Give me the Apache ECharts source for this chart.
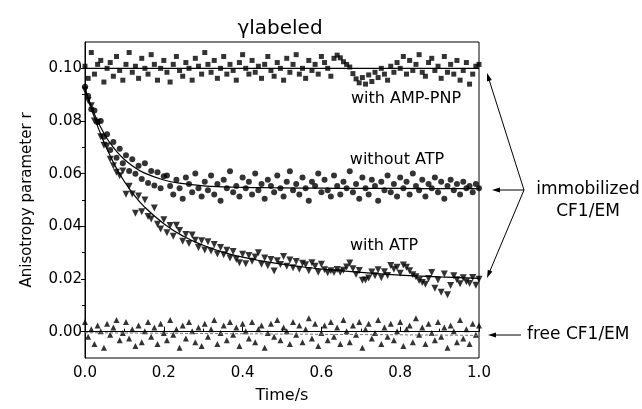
<!DOCTYPE html>
<html>
<head>
<meta charset="utf-8">
<script src="https://cdn.jsdelivr.net/npm/echarts@6/dist/echarts.min.js"></script>
<style>html,body{margin:0;padding:0;background:#fff;}#chart{width:642px;height:409px;}</style>
</head>
<body>
<div id="chart"></div>
<script>
// ---- data ----
var times = [0,0.008,0.016,0.024,0.032,0.04,0.048,0.056,0.064,0.072,0.08,0.088,0.096,0.104,0.112,0.12,0.128,0.136,0.144,0.152,0.16,0.168,0.176,0.184,0.192,0.2,0.208,0.216,0.224,0.232,0.24,0.248,0.256,0.264,0.272,0.28,0.288,0.296,0.304,0.312,0.32,0.328,0.336,0.344,0.352,0.36,0.368,0.376,0.384,0.392,0.4,0.408,0.416,0.424,0.432,0.44,0.448,0.456,0.464,0.472,0.48,0.488,0.496,0.504,0.512,0.52,0.528,0.536,0.544,0.552,0.56,0.568,0.576,0.584,0.592,0.6,0.608,0.616,0.624,0.632,0.64,0.648,0.656,0.664,0.672,0.68,0.688,0.696,0.704,0.712,0.72,0.728,0.736,0.744,0.752,0.76,0.768,0.776,0.784,0.792,0.8,0.808,0.816,0.824,0.832,0.84,0.848,0.856,0.864,0.872,0.88,0.888,0.896,0.904,0.912,0.92,0.928,0.936,0.944,0.952,0.96,0.968,0.976,0.984,0.992,1.0];

var ampPnp = [
0.1008,0.0962,0.1060,0.0978,0.1015,0.1030,0.0948,0.1000,0.1022,0.0970,
0.1045,0.0992,0.0955,0.1015,0.1060,0.0985,0.1008,0.0962,0.1038,0.1000,
0.0978,0.1052,0.1015,0.0955,0.1000,0.1030,0.0985,0.0948,0.1015,0.1045,
0.0992,0.0970,0.1022,0.1000,0.0955,0.1038,0.1008,0.0978,0.1060,0.1015,
0.0985,0.1030,0.0962,0.1000,0.1045,0.0978,0.1015,0.0992,0.0955,0.1022,
0.1052,0.1000,0.0978,0.1030,0.0985,0.1008,0.0962,0.1015,0.1045,0.0992,
0.0970,0.1022,0.1000,0.0955,0.1038,0.0985,0.1015,0.1052,0.0978,0.1000,
0.0962,0.1030,0.0992,0.1015,0.0978,0.1045,0.1022,0.1000,0.0970,0.1038,
0.1050,0.1040,0.1025,0.1015,0.1005,0.0980,0.0960,0.0945,0.0965,0.0940,
0.0975,0.0950,0.0985,0.0965,0.1000,0.0978,0.0955,0.1008,0.0985,0.1022,
0.1000,0.1045,0.0978,0.1030,0.0992,0.1015,0.1052,0.0985,0.0970,0.1022,
0.1038,0.0992,0.1008,0.0962,0.1045,0.0985,0.1015,0.0978,0.1030,0.0955,
0.0992,0.1022,0.0940,0.0978,0.1008,0.1015];

var withoutAtp = [
0.0930,0.0895,0.0845,0.0840,0.0795,0.0800,0.0740,0.0750,0.0690,0.0720,
0.0660,0.0695,0.0640,0.0670,0.0610,0.0655,0.0600,0.0630,0.0580,0.0640,
0.0565,0.0610,0.0555,0.0605,0.0545,0.0590,
0.0593,0.0553,0.0521,0.0577,0.0545,0.0505,0.0585,0.0561,0.0529,0.0601,
0.0545,0.0513,0.0569,0.0537,0.0593,0.0521,0.0561,0.0497,0.0577,0.0545,
0.0609,0.0529,0.0553,0.0513,0.0585,0.0545,0.0569,0.0521,0.0601,0.0537,
0.0561,0.0505,0.0577,0.0553,0.0529,0.0593,0.0545,0.0513,0.0569,0.0609,
0.0537,0.0561,0.0521,0.0585,0.0545,0.0497,0.0569,0.0553,0.0601,0.0529,
0.0577,0.0537,0.0513,0.0593,0.0553,0.0521,0.0569,0.0545,0.0609,0.0529,
0.0561,0.0505,0.0585,0.0545,0.0521,0.0577,0.0553,0.0497,0.0569,0.0537,
0.0593,0.0529,0.0561,0.0513,0.0585,0.0545,0.0569,0.0521,0.0601,0.0553,
0.0537,0.0577,0.0513,0.0561,0.0545,0.0585,0.0529,0.0569,0.0505,0.0553,
0.0577,0.0537,0.0561,0.0521,0.0569,0.0545,0.0553,0.0529,0.0561,0.0545];

var withAtp = [
0.0918,0.0878,0.0858,0.0800,0.0795,0.0740,0.0708,0.0705,0.0655,0.0630,
0.0605,0.0592,0.0610,0.0522,0.0552,0.0523,0.0450,0.0515,0.0455,0.0500,
0.0437,0.0428,0.0470,0.0408,0.0390,0.0425,0.0376,0.0403,0.0362,0.0404,
0.0384,0.0343,0.0369,0.0335,0.0367,0.0347,0.0320,0.0345,0.0310,0.0341,
0.0306,0.0331,0.0295,0.0320,0.0292,0.0309,0.0280,0.0304,0.0275,0.0262,
0.0294,0.0258,0.0289,0.0267,0.0284,0.0300,0.0256,0.0280,0.0250,0.0274,
0.0230,0.0269,0.0255,0.0285,0.0248,0.0272,0.0243,0.0266,0.0237,0.0260,
0.0254,0.0231,0.0262,0.0248,0.0226,0.0256,0.0235,0.0224,0.0231,0.0225,
0.0236,0.0226,0.0233,0.0246,0.0261,0.0239,0.0217,0.0232,0.0195,0.0196,
0.0204,0.0227,0.0212,0.0235,0.0205,0.0228,0.0213,0.0251,0.0237,0.0245,
0.0222,0.0253,0.0245,0.0231,0.0216,0.0209,0.0194,0.0187,0.0180,0.0202,
0.0225,0.0165,0.0196,0.0150,0.0219,0.0140,0.0175,0.0212,0.0197,0.0182,
0.0205,0.0190,0.0183,0.0206,0.0176,0.0199];

var freeCF1 = [
0.0037,-0.0019,0.0009,-0.0047,0.0023,0.0002,-0.0061,0.0030,-0.0012,0.0016,
0.0044,-0.0033,-0.0005,0.0037,-0.0026,0.0009,-0.0054,0.0023,-0.0040,0.0002,
0.0037,-0.0019,0.0016,-0.0047,0.0030,-0.0005,-0.0033,0.0044,-0.0012,0.0009,
-0.0061,0.0023,-0.0026,0.0037,0.0002,-0.0040,0.0016,-0.0054,0.0030,-0.0019,
0.0009,0.0044,-0.0047,-0.0005,0.0023,-0.0033,0.0037,-0.0012,0.0016,-0.0054,
0.0030,0.0002,-0.0026,0.0037,-0.0040,0.0009,0.0023,-0.0061,-0.0005,0.0030,
-0.0019,0.0044,-0.0033,0.0016,0.0002,-0.0047,0.0037,-0.0012,0.0023,-0.0040,
0.0009,0.0051,-0.0026,0.0030,-0.0054,-0.0005,0.0023,-0.0033,0.0037,-0.0019,
0.0016,-0.0047,0.0044,0.0002,-0.0040,0.0023,-0.0012,0.0037,-0.0061,0.0009,
0.0030,-0.0026,-0.0005,0.0044,-0.0047,0.0016,-0.0019,0.0030,-0.0033,0.0002,
0.0037,-0.0054,0.0009,0.0023,-0.0040,0.0051,-0.0012,0.0016,-0.0047,0.0030,
-0.0005,-0.0033,0.0037,-0.0019,0.0016,-0.0061,0.0023,0.0002,-0.0040,0.0044,
-0.0026,0.0009,-0.0047,0.0030,-0.0012,0.0023];

// fitted curves
var fitTimes = [0,0.01,0.02,0.03,0.04,0.05,0.06,0.08,0.1,0.12,0.15,0.2,0.25,0.3,0.35,0.4,0.45,0.5,0.6,0.7,0.8,0.9,1.0];
var withoutAtpFit = [0.0925,0.0880,0.0841,0.0806,0.0776,0.0748,0.0724,0.0685,0.0654,0.0630,0.0603,0.0576,0.0562,0.0554,0.0550,0.0548,0.0547,0.0546,0.0545,0.0544,0.0544,0.0543,0.0543];
var withAtpFit = [0.0925,0.0876,0.0830,0.0788,0.0750,0.0713,0.0680,0.0620,0.0570,0.0528,0.0475,0.0410,0.0362,0.0328,0.0302,0.0283,0.0268,0.0256,0.0238,0.0225,0.0215,0.0208,0.0202];
var lineTimes = [0, 1.0];
var ampPnpFit = [0.1000, 0.1000];
var freeFit = [-0.0004, -0.0014];

// axis ticks
var xTicks = [0, 0.2, 0.4, 0.6, 0.8, 1.0];
var yTicks = [0, 0.02, 0.04, 0.06, 0.08, 0.10];
var yMinorTicks = [0.01, 0.03, 0.05, 0.07, 0.09];

// ---- chart ----
var FONT = '"DejaVu Sans", sans-serif';
function pairs(xs, ys) { return xs.map(function (x, i) { return [x, ys[i]]; }); }

var chart = echarts.init(document.getElementById('chart'), null, {renderer: 'canvas'});
var axisLine = {show: true, lineStyle: {color: '#000', width: 1}};
var option = {
  animation: false,
  backgroundColor: '#fff',
  grid: {left: 85, right: 163, top: 42, bottom: 49, show: true, borderColor: '#000', borderWidth: 1, containLabel: false},
  xAxis: {
    type: 'value', min: 0, max: 1, interval: 0.2,
    name: 'Time/s', nameLocation: 'middle', nameGap: 30,
    nameTextStyle: {fontFamily: FONT, fontSize: 16, color: '#000'},
    axisLine: axisLine,
    axisTick: {show: true, inside: true, length: 5, lineStyle: {color: '#000'}},
    minorTick: {show: true, splitNumber: 2, length: 3, lineStyle: {color: '#000'}},
    splitLine: {show: false},
    axisLabel: {fontFamily: FONT, fontSize: 15, color: '#000', margin: 8,
      customValues: xTicks,
      formatter: function (v) { return v.toFixed(1); }}
  },
  yAxis: [{
    type: 'value', min: -0.01, max: 0.11,
    name: 'Anisotropy parameter r', nameLocation: 'middle', nameGap: 50,
    nameTextStyle: {fontFamily: FONT, fontSize: 15, color: '#000'},
    axisLine: axisLine,
    axisTick: {show: true, inside: false, length: 4, customValues: yTicks, lineStyle: {color: '#000'}},
    splitLine: {show: false},
    axisLabel: {fontFamily: FONT, fontSize: 15, color: '#000', margin: 3,
      customValues: yTicks,
      formatter: function (v) { return v.toFixed(2); }}
  }, {
    type: 'value', min: -0.01, max: 0.11, position: 'left',
    axisLine: {show: false},
    axisTick: {show: true, inside: false, length: 3, customValues: yMinorTicks, lineStyle: {color: '#000'}},
    splitLine: {show: false},
    axisLabel: {show: false}
  }],
  series: [
    {type: 'scatter', data: pairs(times, ampPnp), symbol: 'rect', symbolSize: 5, itemStyle: {color: '#000'}},
    {type: 'scatter', data: pairs(times, withoutAtp), symbol: 'circle', symbolSize: 6, itemStyle: {color: '#000'}},
    {type: 'scatter', data: pairs(times, withAtp), symbol: 'triangle', symbolRotate: 180, symbolSize: 7, itemStyle: {color: '#000'}},
    {type: 'scatter', data: pairs(times, freeCF1), symbol: 'triangle', symbolSize: 6, itemStyle: {color: '#000'}},
    {type: 'line', data: pairs(lineTimes, ampPnpFit), showSymbol: false, lineStyle: {color: '#000', width: 1.2}},
    {type: 'line', data: pairs(fitTimes, withoutAtpFit), smooth: true, showSymbol: false, lineStyle: {color: '#000', width: 1.2}},
    {type: 'line', data: pairs(fitTimes, withAtpFit), smooth: true, showSymbol: false, lineStyle: {color: '#000', width: 1.2}},
    {type: 'line', data: pairs(lineTimes, freeFit), showSymbol: false, lineStyle: {color: '#777', width: 1, type: [3, 2]}}
  ],
  graphic: [
    {type: 'text', x: 280, y: 29, style: {text: '\u03b3labeled', font: '20px ' + FONT, fill: '#000', align: 'center', verticalAlign: 'middle'}},
    {type: 'text', x: 406, y: 99, style: {text: 'with AMP-PNP', font: '16px ' + FONT, fill: '#000', align: 'center', verticalAlign: 'middle'}},
    {type: 'text', x: 397, y: 160, style: {text: 'without ATP', font: '16px ' + FONT, fill: '#000', align: 'center', verticalAlign: 'middle'}},
    {type: 'text', x: 384, y: 246, style: {text: 'with ATP', font: '16px ' + FONT, fill: '#000', align: 'center', verticalAlign: 'middle'}},
    {type: 'text', x: 588, y: 190, style: {text: 'immobilized', font: '17px ' + FONT, fill: '#000', align: 'center', verticalAlign: 'middle'}},
    {type: 'text', x: 588, y: 212, style: {text: 'CF1/EM', font: '17px ' + FONT, fill: '#000', align: 'center', verticalAlign: 'middle'}},
    {type: 'text', x: 527, y: 335, style: {text: 'free CF1/EM', font: '17px ' + FONT, fill: '#000', align: 'left', verticalAlign: 'middle'}},
    {type: 'line', shape: {x1: 524, y1: 190, x2: 488.5, y2: 78}, style: {stroke: '#000', lineWidth: 1}},
    {type: 'polygon', shape: {points: [[487, 73], [491.8, 79.9], [487.0, 81.4]]}, style: {fill: '#000'}},
    {type: 'line', shape: {x1: 524, y1: 190, x2: 498, y2: 190}, style: {stroke: '#000', lineWidth: 1}},
    {type: 'polygon', shape: {points: [[492, 190], [500, 187.5], [500, 192.5]]}, style: {fill: '#000'}},
    {type: 'line', shape: {x1: 524, y1: 190, x2: 489.5, y2: 272}, style: {stroke: '#000', lineWidth: 1}},
    {type: 'polygon', shape: {points: [[487, 278], [492.4, 271.6], [487.8, 269.7]]}, style: {fill: '#000'}},
    {type: 'line', shape: {x1: 521, y1: 335, x2: 494, y2: 335}, style: {stroke: '#000', lineWidth: 1}},
    {type: 'polygon', shape: {points: [[488, 335], [496, 332.5], [496, 337.5]]}, style: {fill: '#000'}}
  ]
};
chart.setOption(option);
</script>
</body>
</html>
